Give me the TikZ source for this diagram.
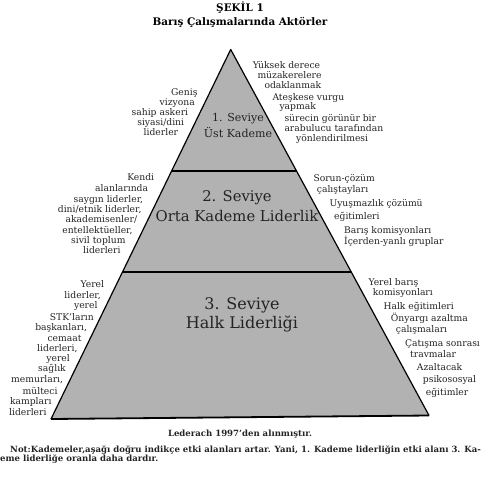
\documentclass[tikz,border=0pt]{standalone}
\usepackage{fontspec}
\setmainfont{DejaVu Serif}
\usetikzlibrary{calc}
\definecolor{pyrgray}{RGB}{178,178,178}
\definecolor{inkgray}{RGB}{35,35,35}
\tikzset{
  side/.style={inner sep=0, text=inkgray, font=\fontsize{9.2}{10}\selectfont},
  lside/.style={side, anchor=base east},
  rside/.style={side, anchor=base west},
  level/.style={inner sep=0, align=center, anchor=base, text=inkgray},
  bnote/.style={inner sep=0, text=inkgray, font=\fontsize{8.55}{9}\selectfont\bfseries},
  edge/.style={line width=1.2pt, line join=round},
}

\begin{document}
\begin{tikzpicture}[x=1pt,y=-1pt]
		\clip (0,0) rectangle (480,486);

		% title
		\node[inner sep=0, anchor=base, font=\fontsize{10.4}{11}\selectfont\bfseries] (title) at (240,12) {ŞEKİL 1};
		\node[inner sep=0, anchor=base, font=\fontsize{10.4}{11}\selectfont\bfseries] (subtitle) at (240,26) {Barış Çalışmalarında Aktörler};

		% pyramid
		\coordinate (apex) at (230.7,49.5);
		\coordinate (bl) at (51,419);
		\coordinate (br) at (429,415.5);
		\coordinate (l1) at (171.6,171);
		\coordinate (r1) at (296.5,171);
		\coordinate (l2) at (122.5,272);
		\coordinate (r2) at (351.3,272);

		\fill[pyrgray] (apex) -- (bl) -- (br) -- cycle;
		\draw[edge] (bl) -- (apex) -- (br);
		\draw[line width=1.8pt] (bl) -- (br);
		\draw[line width=1.3pt] (l1) -- (r1);
		\draw[line width=1.3pt] (l2) -- (r2);

		\node[level, font=\fontsize{11}{15.5}\selectfont] (lev1) at (238,137.5) {1. Seviye\\Üst Kademe};
		\node[level, font=\fontsize{14.8}{20}\selectfont] (lev2) at (237,221.7) {2. Seviye\\Orta Kademe Liderlik};
		\node[level, font=\fontsize{16}{18.7}\selectfont] (lev3) at (242,328) {3. Seviye\\Halk Liderliği};

		% left side texts
		\foreach \x/\y/\t [count=\i] in {197.7/95.5/Geniş, 195/105.5/vizyona, 188.3/115.5/sahip askeri,
				184.3/125.5/{siyasi/dini}, 178.3/135.5/liderler}
			\node[lside] (la\i) at (\x,\y) {\t};
		\foreach \x/\y/\t [count=\i] in {154.3/180.7/Kendi, 148.3/191.7/alanlarında, 143.3/202.3/{saygın liderler,},
				141.7/212.7/{dini/etnik liderler,}, 137.3/222.7/{akademisenler/}, 132.7/233.3/{entellektüeller,},
				125.7/243.3/sivil toplum, 120.7/253.3/liderleri}
			\node[lside] (lb\i) at (\x,\y) {\t};
		\foreach \x/\y/\t [count=\i] in {104.3/287.7/Yerel, 101/298.3/{liderler,}, 97.7/308.3/yerel,
				94/320/STK’ların, 87.3/330.7/{başkanları,}, 81.7/341/cemaat, 77.7/351.7/{liderleri,},
				70/361.7/yerel, 66/371.7/sağlık, 63.3/382.7/{memurları,}, 57.7/394/mülteci,
				51.7/404/kampları, 46.7/415/liderleri}
			\node[lside] (lc\i) at (\x,\y) {\t};

		% right side texts
		\foreach \x/\y/\t [count=\i] in {252.7/69/Yüksek derece, 257.3/79/müzakerelere, 264.3/89/odaklanmak,
				272.3/100.7/Ateşkese vurgu, 279.3/110/yapmak, 284.3/121.7/sürecin görünür bir,
				284.3/131.7/arabulucu tarafından, 296/141.7/yönlendirilmesi}
			\node[rside] (ra\i) at (\x,\y) {\t};
		\foreach \x/\y/\t [count=\i] in {313.3/181.7/Sorun-çözüm, 316.7/192.3/çalıştayları,
				329.3/206.7/Uyuşmazlık çözümü, 334/219.3/eğitimleri, 344/233.3/Barış komisyonları,
				344/244/İçerden-yanlı gruplar}
			\node[rside] (rb\i) at (\x,\y) {\t};
		\foreach \x/\y/\t [count=\i] in {368.3/285/Yerel barış, 372.7/295.7/komisyonları,
				383.3/309/Halk eğitimleri, 390.7/321.7/Önyargı azaltma, 395.7/332.3/çalışmaları,
				405/346/Çatışma sonrası, 410/357.3/travmalar, 416.7/370/Azaltacak,
				422.7/382.7/psikososyal, 425.7/395/eğitimler}
			\node[rside] (rc\i) at (\x,\y) {\t};

		% source and note
		\node[bnote, anchor=base] (source) at (240,436) {Lederach 1997’den alınmıştır.};
		\node[bnote, anchor=base west] (note1) at (10,452) {Not:Kademeler,aşağı doğru indikçe etki alanları artar. Yani, 1. Kademe liderliğin etki alanı 3. Ka-};
		\node[bnote, anchor=base west] (note2) at (-6,461.5) {deme liderliğe oranla daha dardır.};
	\end{tikzpicture}
\end{document}
